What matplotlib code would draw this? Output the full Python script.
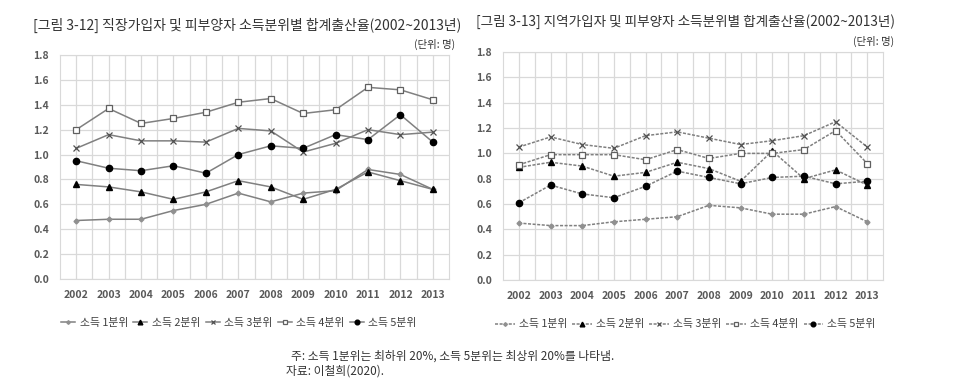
import matplotlib.pyplot as plt

plt.rcParams['font.family'] = ['Noto Sans CJK KR', 'DejaVu Sans']

# Data
years = ['2002', '2003', '2004', '2005', '2006', '2007', '2008', '2009', '2010', '2011', '2012', '2013']
labels = ['소득 1분위', '소득 2분위', '소득 3분위', '소득 4분위', '소득 5분위']

# 직장가입자 및 피부양자
work_q1 = [0.47, 0.48, 0.48, 0.55, 0.60, 0.69, 0.62, 0.69, 0.71, 0.88, 0.84, 0.72]
work_q2 = [0.76, 0.74, 0.70, 0.64, 0.70, 0.79, 0.74, 0.64, 0.72, 0.86, 0.79, 0.72]
work_q3 = [1.05, 1.16, 1.11, 1.11, 1.10, 1.21, 1.19, 1.02, 1.09, 1.20, 1.16, 1.18]
work_q4 = [1.20, 1.37, 1.25, 1.29, 1.34, 1.42, 1.45, 1.33, 1.36, 1.54, 1.52, 1.44]
work_q5 = [0.95, 0.89, 0.87, 0.91, 0.85, 1.00, 1.07, 1.05, 1.16, 1.12, 1.32, 1.10]

# 지역가입자 및 피부양자
region_q1 = [0.45, 0.43, 0.43, 0.46, 0.48, 0.50, 0.59, 0.57, 0.52, 0.52, 0.58, 0.46]
region_q2 = [0.89, 0.93, 0.90, 0.82, 0.85, 0.93, 0.88, 0.78, 1.02, 0.80, 0.87, 0.75]
region_q3 = [1.05, 1.13, 1.07, 1.04, 1.14, 1.17, 1.12, 1.07, 1.10, 1.14, 1.25, 1.05]
region_q4 = [0.91, 0.99, 0.99, 0.99, 0.95, 1.03, 0.96, 1.00, 1.00, 1.03, 1.18, 0.92]
region_q5 = [0.61, 0.75, 0.68, 0.65, 0.74, 0.86, 0.81, 0.76, 0.81, 0.82, 0.76, 0.78]

line_col = '#808080'
text_col = '#595959'
grid_col = '#d9d9d9'

marker_styles = [
    dict(marker='D', markersize=2.5, markerfacecolor='#909090', markeredgecolor='#909090'),
    dict(marker='^', markersize=4.5, markerfacecolor='black', markeredgecolor='black'),
    dict(marker='x', markersize=4.5, markeredgecolor='#505050', markeredgewidth=0.9),
    dict(marker='s', markersize=4.5, markerfacecolor='white', markeredgecolor='#606060', markeredgewidth=0.9),
    dict(marker='o', markersize=4.5, markerfacecolor='black', markeredgecolor='black'),
]

fig = plt.figure(figsize=(9.7, 3.8), dpi=100)
ax1 = fig.add_axes([0.0619, 0.2658, 0.401, 0.5895])
ax2 = fig.add_axes([0.5186, 0.263, 0.3918, 0.600])


def draw(ax, series, ls, legend_x, hlen, cspace):
    x = list(range(len(years)))
    for vals, lab, ms in zip(series, labels, marker_styles):
        ax.plot(x, vals, color=line_col, linewidth=1.1, linestyle=ls, label=lab, **ms)
    ax.set_xlim(-0.5, len(years) - 0.5)
    ax.set_ylim(0, 1.8)
    ax.set_yticks([0.0, 0.2, 0.4, 0.6, 0.8, 1.0, 1.2, 1.4, 1.6, 1.8])
    ax.set_yticklabels([f'{v:.1f}' for v in ax.get_yticks()])
    ax.set_xticks(x)
    ax.set_xticklabels(years)
    ax.set_xticks([i + 0.5 for i in x[:-1]], minor=True)
    ax.grid(True, which='both', color=grid_col, linewidth=0.9)
    ax.set_axisbelow(True)
    ax.tick_params(which='both', length=0, colors=text_col, labelsize=7.5, pad=8)
    for t in ax.get_xticklabels() + ax.get_yticklabels():
        t.set_fontweight('bold')
    for s in ax.spines.values():
        s.set_color(grid_col)
    ax.legend(loc='upper center', bbox_to_anchor=(legend_x, -0.13), ncol=5, frameon=False,
              fontsize=7.8, handlelength=hlen, columnspacing=cspace, handletextpad=0.4,
              markerscale=0.75, labelcolor='#404040')


draw(ax1, [work_q1, work_q2, work_q3, work_q4, work_q5], '-', 0.46, 1.3, 0.5)
draw(ax2, [region_q1, region_q2, region_q3, region_q4, region_q5], (0, (2, 1)), 0.48, 1.8, 0.45)

fig.text(33 / 970, 1 - 25 / 380, '[그림 3-12] 직장가입자 및 피부양자 소득분위별 합계출산율(2002~2013년)',
         fontsize=10, color='#333333', va='center', ha='left')
fig.text(455 / 970, 1 - 44 / 380, '(단위: 명)', fontsize=7.5, color='#333333', va='center', ha='right')
fig.text(476 / 970, 1 - 22 / 380, '[그림 3-13] 지역가입자 및 피부양자 소득분위별 합계출산율(2002~2013년)',
         fontsize=9.8, color='#333333', va='center', ha='left')
fig.text(894 / 970, 1 - 41 / 380, '(단위: 명)', fontsize=7.5, color='#333333', va='center', ha='right')

fig.text(291 / 970, 1 - 356 / 380, '주: 소득 1분위는 최하위 20%, 소득 5분위는 최상위 20%를 나타냄.',
         fontsize=8.5, color='#333333', va='center', ha='left')
fig.text(286 / 970, 1 - 371 / 380, '자료: 이철희(2020).', fontsize=8.5, color='#333333', va='center', ha='left')

fig.savefig('out.png', dpi=100)
